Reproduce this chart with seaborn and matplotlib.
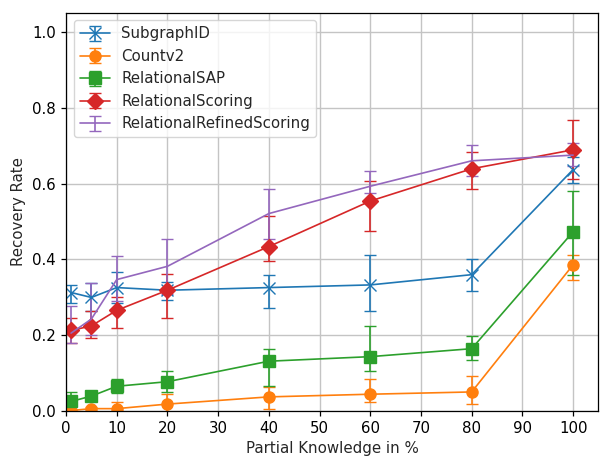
import matplotlib
matplotlib.use("Agg")
import matplotlib.pyplot as plt
import seaborn as sns
import numpy as np

x = [1, 5, 10, 20, 40, 60, 80, 100]

series_names = ["SubgraphID", "Countv2", "RelationalSAP", "RelationalScoring", "RelationalRefinedScoring"]

subgraph_mean = [0.313, 0.300, 0.326, 0.319, 0.326, 0.333, 0.360, 0.637]
subgraph_low = [0.285, 0.263, 0.286, 0.294, 0.273, 0.265, 0.318, 0.602]
subgraph_high = [0.333, 0.338, 0.366, 0.340, 0.360, 0.413, 0.400, 0.670]

countv2_mean = [0.002, 0.007, 0.007, 0.019, 0.038, 0.045, 0.051, 0.386]
countv2_low = [-0.004, -0.004, -0.010, -0.008, 0.005, 0.025, 0.018, 0.347]
countv2_high = [0.006, 0.012, 0.025, 0.045, 0.064, 0.085, 0.093, 0.413]

sap_mean = [0.026, 0.040, 0.066, 0.078, 0.132, 0.144, 0.165, 0.473]
sap_low = [0.000, 0.030, 0.047, 0.050, 0.066, 0.106, 0.135, 0.360]
sap_high = [0.052, 0.050, 0.085, 0.107, 0.165, 0.226, 0.198, 0.580]

scoring_mean = [0.213, 0.225, 0.266, 0.319, 0.434, 0.554, 0.639, 0.689]
scoring_low = [0.180, 0.194, 0.219, 0.246, 0.395, 0.474, 0.587, 0.612]
scoring_high = [0.245, 0.263, 0.300, 0.361, 0.514, 0.607, 0.682, 0.768]

refined_mean = [0.206, 0.243, 0.347, 0.382, 0.521, 0.593, 0.660, 0.675]
refined_low = [0.181, 0.200, 0.290, 0.310, 0.455, 0.576, 0.620, 0.646]
refined_high = [0.278, 0.338, 0.408, 0.454, 0.587, 0.633, 0.702, 0.708]

means = [subgraph_mean, countv2_mean, sap_mean, scoring_mean, refined_mean]
lows = [subgraph_low, countv2_low, sap_low, scoring_low, refined_low]
highs = [subgraph_high, countv2_high, sap_high, scoring_high, refined_high]
markers = ["x", "o", "s", "D", None]

sns.set_style("ticks")
plt.rcParams["font.family"] = ["DejaVu Sans"]
palette = sns.color_palette("tab10")
FS = 10.8

fig, ax = plt.subplots(figsize=(6, 4.57), dpi=100)
fig.subplots_adjust(left=0.11, right=0.997, top=0.972, bottom=0.1)

for i, name in enumerate(series_names):
    m = np.array(means[i])
    lo = m - np.array(lows[i])
    hi = np.array(highs[i]) - m
    ax.errorbar(x, m, yerr=[lo, hi], marker=markers[i], markersize=8,
                capsize=4, color=palette[i], label=name, linewidth=1.2,
                elinewidth=1.2)

ax.set_xlim(0, 104.95)
ax.set_ylim(0, 1.05)
ax.set_xticks(range(0, 101, 10))
ax.set_yticks([0.0, 0.2, 0.4, 0.6, 0.8, 1.0])
ax.grid(True, color="#c4c4c4", linewidth=1.0)
ax.set_axisbelow(True)
for s in ax.spines.values():
    s.set_color("black")
    s.set_linewidth(0.9)
ax.tick_params(colors="black", labelsize=FS, length=3.8, width=0.9, direction="out")
ax.set_xlabel("Partial Knowledge in %", fontsize=FS, labelpad=3)
ax.set_ylabel("Recovery Rate", fontsize=FS)
ax.legend(loc="upper left", fontsize=FS)

fig.savefig("out.png", dpi=100)
